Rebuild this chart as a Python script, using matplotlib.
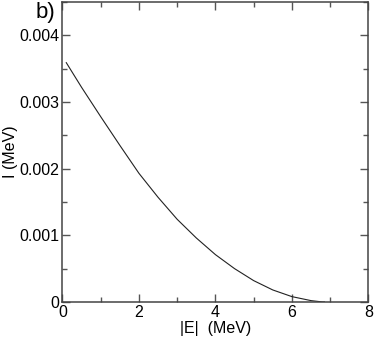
import matplotlib
matplotlib.use("Agg")
import matplotlib.pyplot as plt
from matplotlib.ticker import MultipleLocator

# values
energy = [0.1, 0.5, 1.0, 1.5, 2.0, 2.5, 3.0, 3.5, 4.0, 4.5, 5.0, 5.5, 6.0, 6.5, 6.8, 6.85]
intensity = [0.00359, 0.00322, 0.00278, 0.00235, 0.00193, 0.00157, 0.00124, 0.00096,
             0.00071, 0.00050, 0.00032, 0.00018, 0.00008, 0.00002, 0.0, 0.0]

x_ticks = [0, 2, 4, 6, 8]
x_tick_labels = ["0", "2", "4", "6", "8"]
y_ticks = [0, 0.001, 0.002, 0.003, 0.004]
y_tick_labels = ["0", "0.001", "0.002", "0.003", "0.004"]

plt.rcParams['font.family'] = ['Liberation Sans', 'DejaVu Sans']

fig = plt.figure(figsize=(3.74, 3.37), dpi=100)
ax = fig.add_axes([0.167, 0.104, 0.818, 0.890])

ax.plot(energy, intensity, color='#222222', linewidth=0.8)

ax.set_xlim(0, 8)
ax.set_ylim(0, 0.0045)
ax.set_xticks(x_ticks)
ax.set_xticklabels(x_tick_labels)
ax.set_yticks(y_ticks)
ax.set_yticklabels(y_tick_labels)
ax.xaxis.set_minor_locator(MultipleLocator(1))
ax.yaxis.set_minor_locator(MultipleLocator(0.0005))

ax.tick_params(which='both', direction='in', top=True, right=True,
               color='#555555', labelsize=11.5, labelcolor='black')
ax.tick_params(which='major', length=6, width=1, pad=2)
ax.tick_params(which='minor', length=3.5, width=1)
for s in ax.spines.values():
    s.set_color('#444444')
    s.set_linewidth(1.1)

ax.set_xlabel('|E|  (MeV)', fontsize=11.5, labelpad=1)
ax.set_ylabel('I (MeV)', fontsize=11.5, labelpad=1)

fig.text(0.095, 0.995, 'b)', fontsize=16, va='top', ha='left')

fig.savefig('out.png', dpi=100)
